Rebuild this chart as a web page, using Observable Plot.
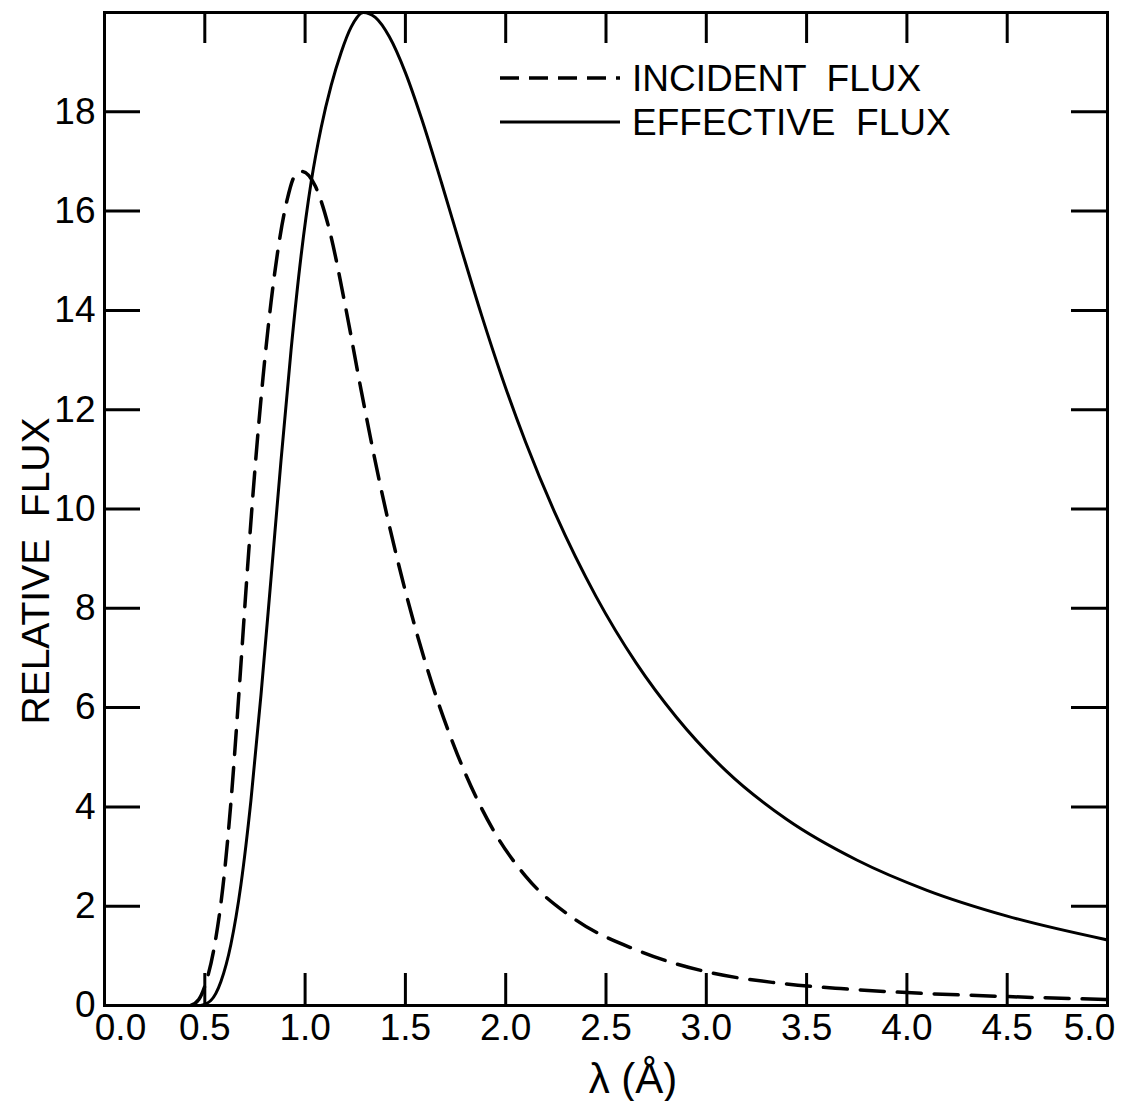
<!DOCTYPE html>
<html><head><meta charset="utf-8">
<script src="https://cdn.jsdelivr.net/npm/d3@7"></script>
<script src="https://cdn.jsdelivr.net/npm/@observablehq/plot@0.6"></script>
<style>
html,body{margin:0;padding:0;background:#fff;}
#chart{width:1143px;height:1101px;}
</style></head><body><div id="chart"></div>
<script>
// Incident flux (dashed)
const incidentLambda = [0.43, 0.47, 0.51, 0.55, 0.59, 0.63, 0.67, 0.71, 0.75, 0.79, 0.83, 0.87, 0.91, 0.95, 0.985, 1.05, 1.12, 1.20, 1.28, 1.38, 1.48, 1.61, 1.76, 1.94, 2.10, 2.34, 2.67, 3.00, 3.34, 3.67, 4.00, 4.50, 5.00];
const incidentFlux   = [0, 0.12, 0.52, 1.24, 2.38, 4.08, 6.28, 8.64, 10.8, 12.64, 14.16, 15.36, 16.22, 16.72, 16.8, 16.51, 15.64, 14.1, 12.38, 10.38, 8.66, 6.77, 5.05, 3.52, 2.6, 1.75, 1.09, 0.68, 0.46, 0.34, 0.26, 0.18, 0.12];
// Effective flux (solid)
const effectiveLambda = [0.48, 0.53, 0.58, 0.63, 0.68, 0.73, 0.78, 0.83, 0.88, 0.93, 0.98, 1.03, 1.08, 1.13, 1.18, 1.23, 1.29, 1.35, 1.42, 1.50, 1.58, 1.68, 1.78, 1.88, 1.98, 2.10, 2.25, 2.45, 2.65, 2.85, 3.10, 3.40, 3.75, 4.10, 4.50, 5.00];
const effectiveFlux   = [0, 0.1, 0.48, 1.23, 2.43, 4.13, 6.25, 8.6, 10.98, 13.2, 15.1, 16.58, 17.68, 18.53, 19.2, 19.71, 20.0, 19.9, 19.51, 18.79, 17.87, 16.57, 15.22, 13.9, 12.67, 11.34, 9.88, 8.24, 6.9, 5.81, 4.72, 3.75, 2.93, 2.32, 1.80, 1.32];

const xTicks = [0, 0.5, 1, 1.5, 2, 2.5, 3, 3.5, 4, 4.5, 5];
const yTicks = [0, 2, 4, 6, 8, 10, 12, 14, 16, 18];
const xLabel = "λ (Å)";
const yLabel = "RELATIVE  FLUX";
const legendLabels = ["INCIDENT  FLUX", "EFFECTIVE  FLUX"];

const incident = incidentLambda.map((x, i) => ({x, y: incidentFlux[i]}));
const effective = effectiveLambda.map((x, i) => ({x, y: effectiveFlux[i]}));

const font = "'Liberation Sans', Arial, sans-serif";
const tickFont = 37;
const xFmt = d => d.toFixed(1);

const plot = Plot.plot({
  width: 1143, height: 1101,
  marginLeft: 104, marginRight: 36, marginTop: 12, marginBottom: 96,
  style: {fontFamily: font, background: "white", color: "black", overflow: "visible"},
  x: {domain: [0, 5], axis: null},
  y: {domain: [0, 20], axis: null},
  marks: [
    Plot.line(incident, {x: "x", y: "y", curve: "monotone-x", clip: true, stroke: "black", strokeWidth: 3.5, strokeDasharray: "24,13"}),
    Plot.line(effective, {x: "x", y: "y", curve: "monotone-x", clip: true, stroke: "black", strokeWidth: 3}),
    // left axis: inward ticks + labels
    Plot.axisY({anchor: "left", ticks: yTicks, tickSize: -36, tickPadding: 45, tickFormat: d => String(d), fontSize: tickFont, strokeWidth: 3, label: null}),
    // right axis: inward ticks only
    Plot.axisY({anchor: "right", ticks: yTicks.filter(d => d > 0), tickSize: -37, tickFormat: () => "", strokeWidth: 3, label: null}),
    // bottom axis: inward ticks
    Plot.axisX({anchor: "bottom", ticks: xTicks.filter(d => d > 0 && d < 5), tickSize: -32, tickFormat: () => "", strokeWidth: 3, label: null}),
    // bottom axis labels (end labels nudged inward as in the original)
    Plot.axisX({anchor: "bottom", ticks: xTicks.filter(d => d > 0 && d < 5), tickSize: 0, tickPadding: 8, tickFormat: xFmt, fontSize: tickFont, label: null}),
    Plot.axisX({anchor: "bottom", ticks: xTicks.filter(d => d === 0), tickSize: 0, tickPadding: 8, dx: 16, tickFormat: xFmt, fontSize: tickFont, label: null}),
    Plot.axisX({anchor: "bottom", ticks: xTicks.filter(d => d === 5), tickSize: 0, tickPadding: 8, dx: -18, tickFormat: xFmt, fontSize: tickFont, label: null}),
    // top axis: inward ticks
    Plot.axisX({anchor: "top", ticks: xTicks.filter(d => d > 0 && d < 5), tickSize: -30, tickFormat: () => "", strokeWidth: 3, label: null}),
    Plot.frame({stroke: "black", strokeWidth: 3}),
    Plot.text([xLabel], {frameAnchor: "bottom", text: d => d, textAnchor: "middle", lineAnchor: "middle", dx: 27, dy: 74, fontSize: 42}),
    Plot.text([yLabel], {frameAnchor: "left", text: d => d, textAnchor: "middle", lineAnchor: "middle", rotate: -90, dx: -68, dy: 62, fontSize: 39})
  ]
});

// Legend (inside plot area, top right)
const svg = d3.select(plot);
const lg = svg.append("g").attr("font-family", font).attr("font-size", 37).attr("fill", "black").attr("text-anchor", "start");
const legendStyles = [{dash: "19,10", w: 3.5}, {dash: null, w: 3}];
legendLabels.forEach((label, i) => {
  const cy = 78 + i * 44;
  const ln = lg.append("line").attr("x1", 500).attr("x2", 620).attr("y1", cy).attr("y2", cy)
    .attr("stroke", "black").attr("stroke-width", legendStyles[i].w);
  if (legendStyles[i].dash) ln.attr("stroke-dasharray", legendStyles[i].dash);
  lg.append("text").attr("x", 632).attr("y", cy).attr("dy", "0.36em").attr("text-anchor", "start")
    .attr("xml:space", "preserve").style("white-space", "pre").text(label);
});

document.getElementById("chart").appendChild(plot);
</script>
</body></html>
